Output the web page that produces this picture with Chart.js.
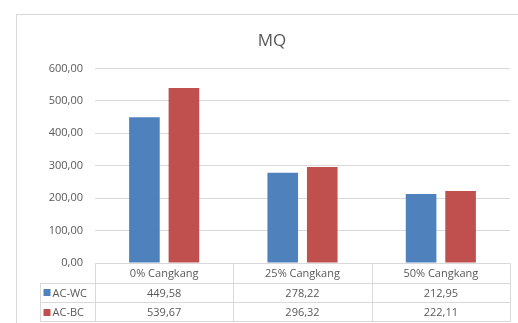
<!DOCTYPE html>
<html><head><meta charset="utf-8">
<style>
html,body{margin:0;padding:0;background:#fff;overflow:hidden;}
#wrap{position:relative;width:528px;height:323px;}
</style>
<script src="https://cdn.jsdelivr.net/npm/chart.js@4/dist/chart.umd.min.js"></script>
</head><body>
<div id="wrap"><canvas id="c" width="528" height="323"></canvas></div>
<script>
// MQ values per shell percentage
const categories = ['0% Cangkang', '25% Cangkang', '50% Cangkang'];
const seriesNames = ['AC-WC', 'AC-BC'];
const acwc = [449.58, 278.22, 212.95];
const acbc = [539.67, 296.32, 222.11];
const yTicks = [0, 100, 200, 300, 400, 500, 600];
const seriesColors = ['#4F81BD', '#C0504D'];
const seriesValues = [acwc, acbc];

const fmt = v => v.toFixed(2).replace('.', ',');
const FONT = "'Open Sans', sans-serif";
const TEXT = '#595959';
const LINE = '#d9d9d9';

// white background and thin outer frame of the chart box
const frame = {
  id: 'frame',
  beforeDraw(chart) {
    const ctx = chart.ctx;
    ctx.save();
    ctx.fillStyle = '#fff';
    ctx.fillRect(0, 0, chart.width, chart.height);
    ctx.strokeStyle = LINE;
    ctx.lineWidth = 1;
    ctx.strokeRect(16.5, 14.5, chart.width - 17, chart.height + 10);
    ctx.restore();
  }
};

// data table under the plot: category header, legend keys and values
const dataTable = {
  id: 'dataTable',
  afterDraw(chart) {
    const ctx = chart.ctx, xs = chart.scales.x, area = chart.chartArea;
    const n = categories.length;
    const colW = (area.right - area.left) / n;
    const top = Math.round(area.bottom) + 0.5;
    const rowH = 19.3;
    const keyLeft = 40.5;
    const L = Math.round(area.left) + 0.5, R = Math.round(area.right) + 0.5;
    ctx.save();
    ctx.strokeStyle = LINE;
    ctx.lineWidth = 1;
    ctx.beginPath();
    ctx.moveTo(L, top); ctx.lineTo(R, top);
    for (let r = 1; r <= 3; r++) {
      const y = Math.round(top + r * rowH) + 0.5;
      ctx.moveTo(keyLeft, y); ctx.lineTo(R, y);
    }
    ctx.moveTo(keyLeft, Math.round(top + rowH) + 0.5);
    ctx.lineTo(keyLeft, Math.round(top + 3 * rowH) + 0.5);
    for (let i = 0; i <= n; i++) {
      const x = Math.round(area.left + i * colW) + 0.5;
      ctx.moveTo(x, top); ctx.lineTo(x, Math.round(top + 3 * rowH) + 0.5);
    }
    ctx.stroke();

    ctx.fillStyle = TEXT;
    ctx.font = "11px " + FONT;
    ctx.textBaseline = 'middle';
    ctx.textAlign = 'center';
    categories.forEach((c, i) => {
      ctx.fillText(c, xs.getPixelForValue(i), top + rowH / 2 + 1);
    });
    seriesNames.forEach((name, s) => {
      const yc = top + (s + 1.5) * rowH + 1;
      ctx.fillStyle = seriesColors[s];
      ctx.fillRect(keyLeft + 3, Math.round(yc - 4), 7, 7);
      ctx.fillStyle = TEXT;
      ctx.textAlign = 'left';
      ctx.fillText(name, keyLeft + 12, yc);
      ctx.textAlign = 'center';
      seriesValues[s].forEach((v, i) => {
        ctx.fillText(fmt(v), xs.getPixelForValue(i), yc);
      });
    });
    ctx.restore();
  }
};

new Chart(document.getElementById('c'), {
  type: 'bar',
  data: {
    labels: categories,
    datasets: seriesNames.map((name, s) => ({
      label: name,
      data: seriesValues[s],
      backgroundColor: seriesColors[s],
      borderWidth: 0,
      categoryPercentage: 0.571,
      barPercentage: 0.775
    }))
  },
  options: {
    responsive: false,
    animation: false,
    devicePixelRatio: 1,
    layout: { padding: { left: 16, right: 0, top: 14, bottom: 60 } },
    plugins: {
      legend: { display: false },
      tooltip: { enabled: false },
      title: {
        display: true,
        text: 'MQ',
        color: TEXT,
        font: { family: FONT, size: 17, weight: 'normal' },
        padding: { top: 17, bottom: 17 }
      }
    },
    scales: {
      x: { display: false },
      y: {
        min: 0,
        max: 600,
        afterBuildTicks(s) { s.ticks = yTicks.map(v => ({ value: v })); },
        afterFit(s) { s.width = 79; },
        ticks: { callback: v => fmt(v), color: TEXT, font: { family: FONT, size: 11 }, padding: 12 },
        grid: { color: LINE, drawTicks: false },
        border: { display: false }
      },
      // empty margin on the right of the plot
      yRight: {
        position: 'right',
        min: 0,
        max: 600,
        afterFit(s) { s.width = 18; },
        ticks: { display: false },
        grid: { display: false, drawTicks: false },
        border: { display: false }
      }
    }
  },
  plugins: [frame, dataTable]
});
</script>
</body></html>
